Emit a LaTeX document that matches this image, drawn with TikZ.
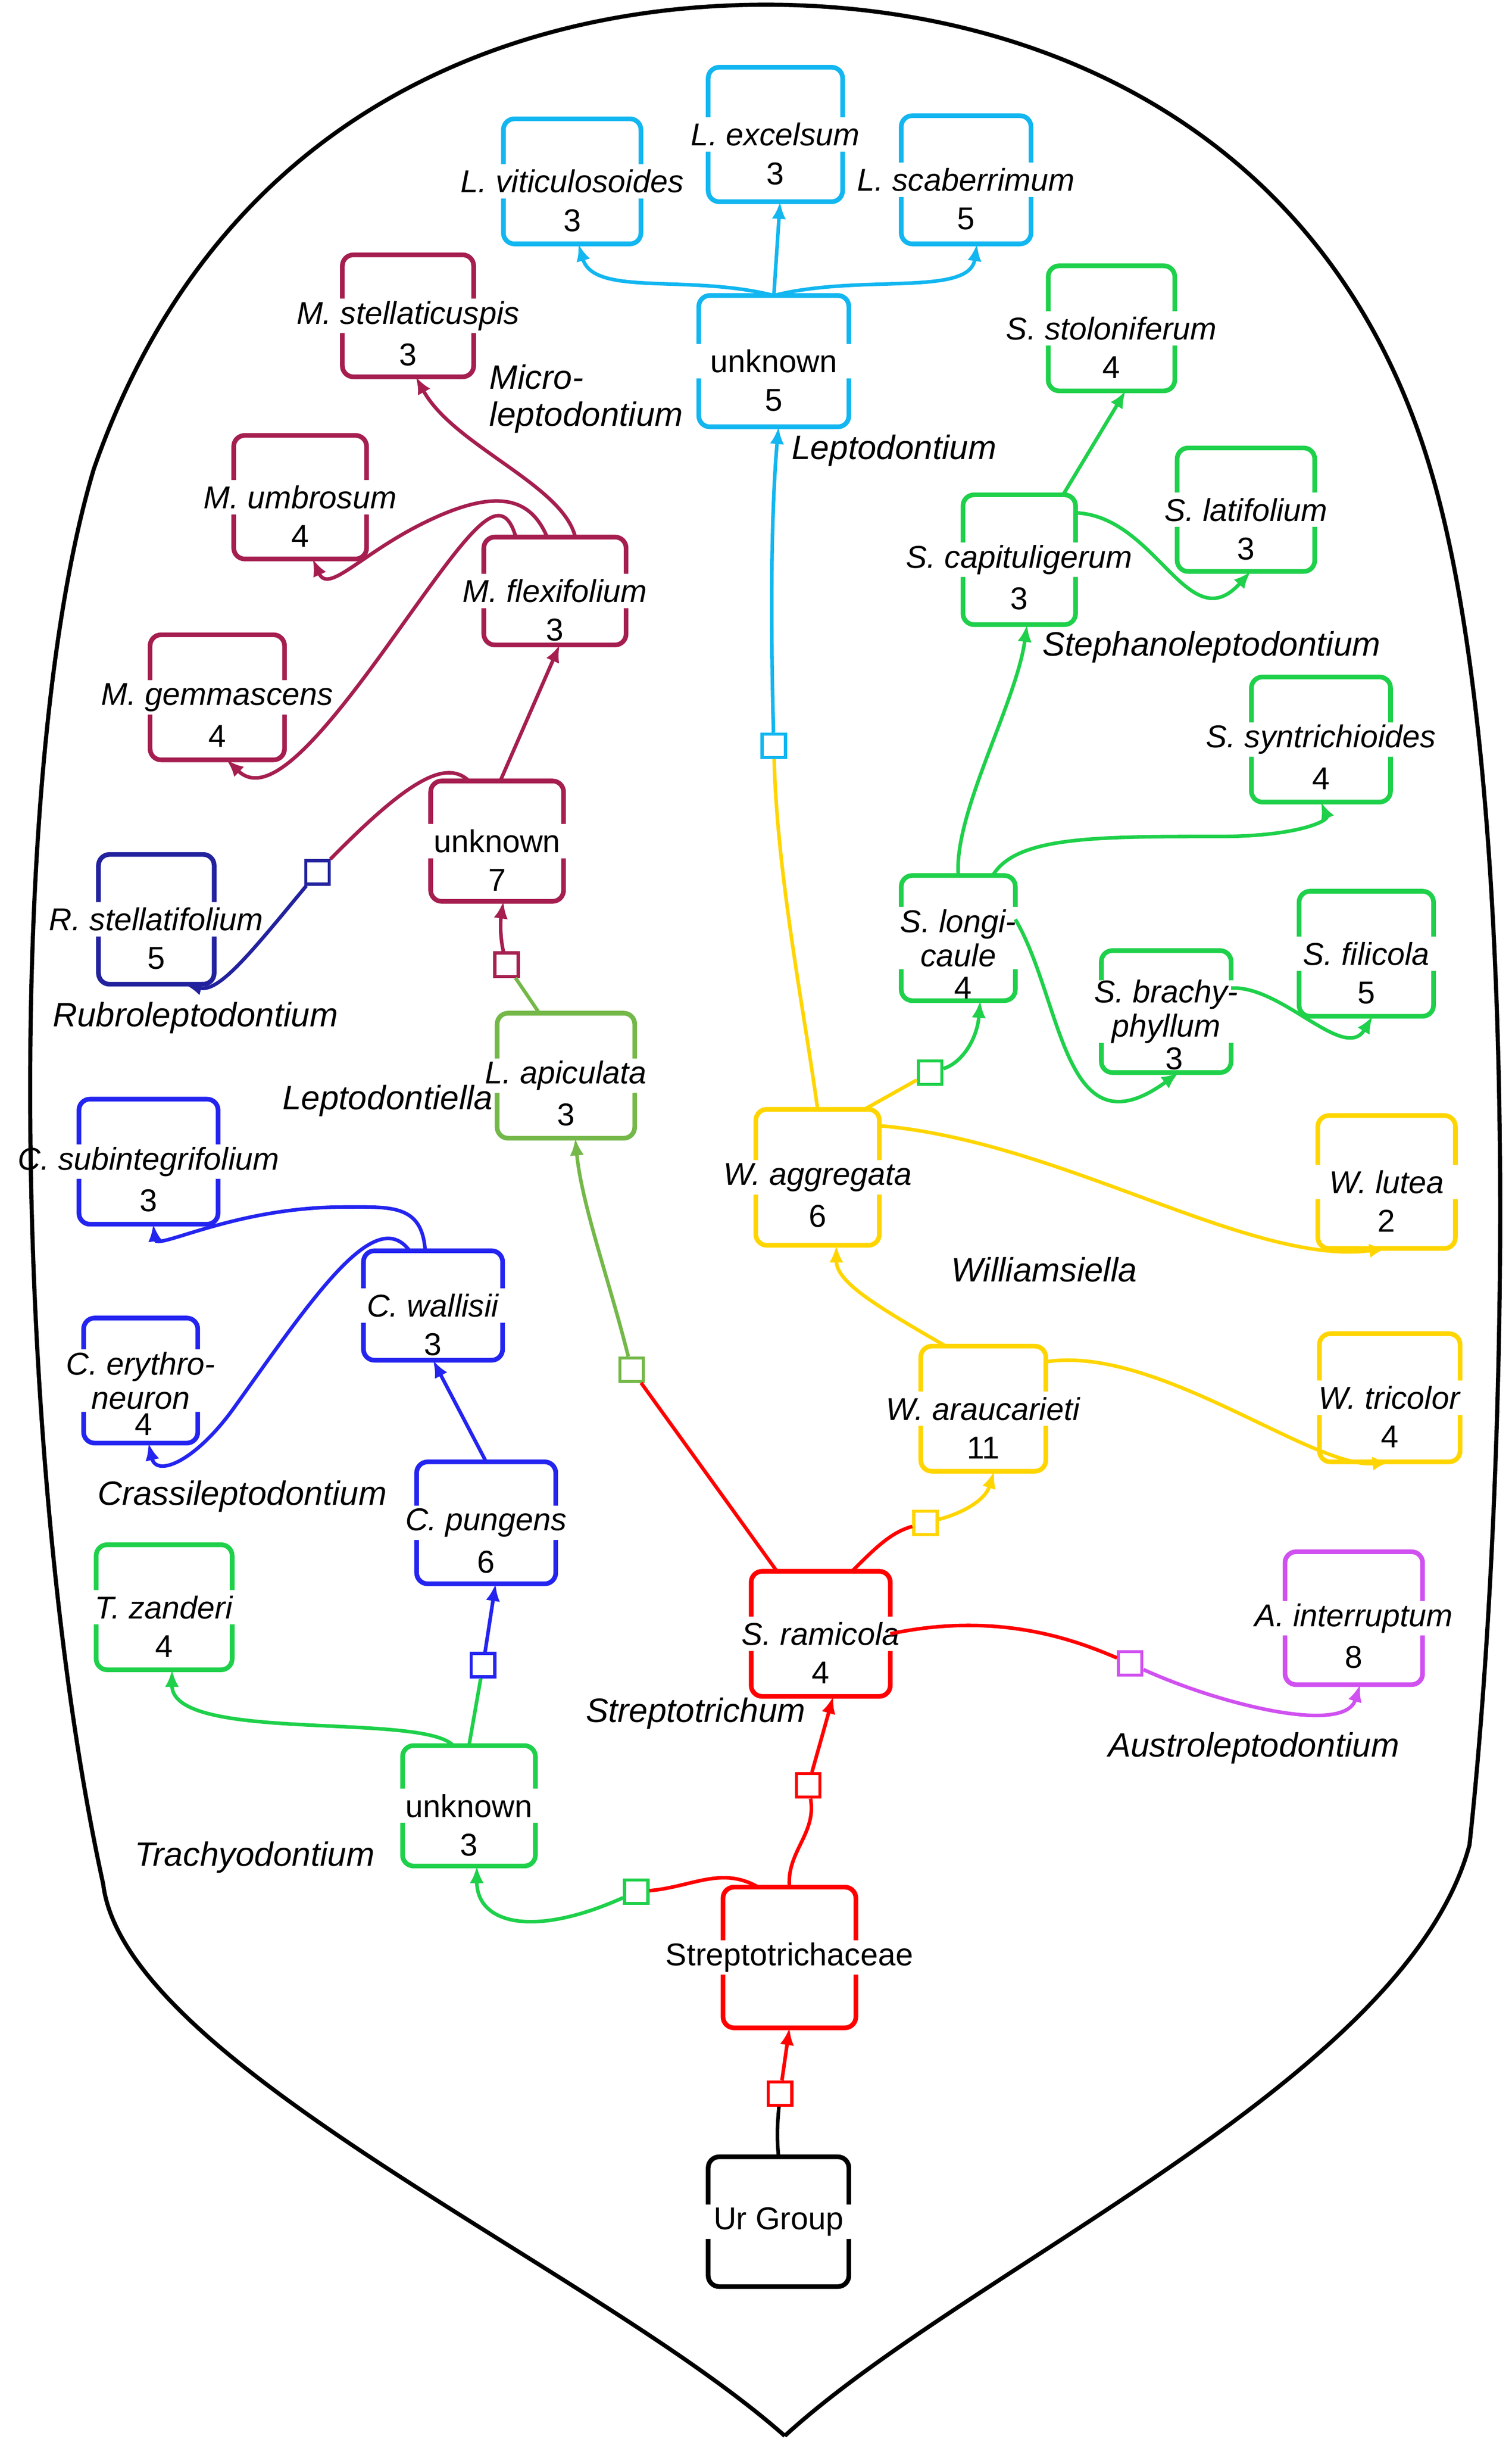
\documentclass[tikz,border=0pt]{standalone}
\usepackage{fontspec}
\setmainfont{Liberation Sans}
\usetikzlibrary{arrows.meta,calc,positioning}

\definecolor{cred}{HTML}{FF0000}
\definecolor{cgreen}{HTML}{1ED04A}
\definecolor{cblue}{HTML}{2424F0}
\definecolor{cnavy}{HTML}{22229E}
\definecolor{cmaroon}{HTML}{A51E4F}
\definecolor{colive}{HTML}{74B849}
\definecolor{ccyan}{HTML}{12B6F0}
\definecolor{cyellow}{HTML}{FFD500}
\definecolor{cpurple}{HTML}{D050F0}

% taxon box: [gap] name, position, width, height, colour, label, number
\newcommand\taxon[8][11]{%
  \node[taxbox, minimum width=#4*0.02cm, minimum height=#5*0.02cm] (#2) at (#3) {};
  \node[taxtext] (#2-name) at (#2.center) {#7};
  \node[taxtext] (#2-num) at ($(#2.center)+(0,25)$) {#8};
  \draw[boxline, #6] ($(#2.west)+(0,-#1)$) |- (#2.north) -| ($(#2.east)+(0,-#1)$);
  \draw[boxline, #6] ($(#2.west)+(0,#1)$) |- (#2.south) -| ($(#2.east)+(0,#1)$);
}

\begin{document}
\begin{tikzpicture}[x=0.02cm, y=-0.02cm,
    taxbox/.style={inner sep=0pt, outer sep=0pt},
    taxtext/.style={inner sep=0pt, align=center, font=\fontsize{11.5}{12.5}\selectfont},
    group/.style={font=\fontsize{12.3}{13.5}\selectfont\itshape, align=left},
    boxline/.style={line width=1.7pt, rounded corners=4pt},
    edge/.style={line width=1.3pt},
    arrow/.style={edge, -{Latex[length=2.2mm,width=1.8mm]}},
    marker/.style={line width=1.1pt, fill=white, minimum size=15*0.02cm, inner sep=0pt},
    leaf/.style={line width=1.5pt}
]
\useasboundingbox (0,0) rectangle (967,1560);

% leaf outline
\draw[leaf] (502,1558) .. controls (380,1450) and (80,1320) .. (66,1205)
  .. controls (10,950) and (0,500) .. (60,300) .. controls (140,70) and (330,3) .. (490,3)
  .. controls (660,3) and (850,80) .. (915,300) .. controls (975,500) and (965,950) .. (940,1180)
  .. controls (900,1330) and (620,1450) .. (502,1558);

% taxa
\taxon{ur}{498,1421}{90}{83}{black}{Ur Group}{}
\taxon{strep}{505,1252}{85}{90}{cred}{Streptotrichaceae}{}
\taxon{ramicola}{525,1045}{89}{80}{cred}{\textit{S. ramicola}}{4}
\taxon{trachy}{300,1155}{85}{77}{cgreen}{unknown}{3}
\taxon{zanderi}{105,1028}{87}{80}{cgreen}{\textit{T. zanderi}}{4}
\taxon{pungens}{311,974}{89}{78}{cblue}{\textit{C. pungens}}{6}
\taxon{wallisii}{277,835}{89}{70}{cblue}{\textit{C. wallisii}}{3}
\taxon[20]{erythro}{90,883}{73}{80}{cblue}{\textit{C. erythro-}\\\textit{neuron}}{}
\node[taxtext] (erythro-n) at (92,911) {4};
\taxon{subinteg}{95,743}{89}{80}{cblue}{\textit{C. subintegrifolium}}{3}
\taxon{apiculata}{362,688}{88}{80}{colive}{\textit{L. apiculata}}{3}
\taxon{micro}{318,538}{85}{77}{cmaroon}{unknown}{7}
\taxon{rstell}{100,588}{74}{83}{cnavy}{\textit{R. stellatifolium}}{5}
\taxon{flexi}{355,378}{91}{69}{cmaroon}{\textit{M. flexifolium}}{3}
\taxon{gemma}{139,446}{86}{80}{cmaroon}{\textit{M. gemmascens}}{4}
\taxon{umbro}{192,318}{85}{79}{cmaroon}{\textit{M. umbrosum}}{4}
\taxon{mstell}{261,202}{84}{78}{cmaroon}{\textit{M. stellaticuspis}}{3}
\taxon{lepto}{495,231}{96}{84}{ccyan}{unknown}{5}
\taxon{viticu}{366,116}{88}{80}{ccyan}{\textit{L. viticulosoides}}{3}
\taxon{excel}{496,86}{86}{86}{ccyan}{\textit{L. excelsum}}{3}
\taxon{scaber}{618,115}{83}{82}{ccyan}{\textit{L. scaberrimum}}{5}
\taxon{stolo}{711,210}{81}{80}{cgreen}{\textit{S. stoloniferum}}{4}
\taxon{latif}{797,326}{88}{79}{cgreen}{\textit{S. latifolium}}{3}
\taxon{capit}{652,358}{72}{83}{cgreen}{\textit{S. capituligerum}}{3}
\taxon{syntr}{845,473}{89}{80}{cgreen}{\textit{S. syntrichioides}}{4}
\taxon[20]{longi}{613,600}{73}{80}{cgreen}{\textit{S. longi-}\\\textit{caule}}{}
\node[taxtext] (longi-n) at (616,632) {4};
\taxon{filic}{874,610}{86}{80}{cgreen}{\textit{S. filicola}}{5}
\taxon[20]{brachy}{746,647}{83}{78}{cgreen}{\textit{S. brachy-}\\\textit{phyllum}}{}
\node[taxtext] (brachy-n) at (751,677) {3};
\taxon{aggreg}{523,753}{79}{87}{cyellow}{\textit{W. aggregata}}{6}
\taxon{lutea}{887,756}{88}{85}{cyellow}{\textit{W. lutea}}{2}
\taxon{arauc}{629,901}{80}{80}{cyellow}{\textit{W. araucarieti}}{11}
\taxon{trico}{889,894}{90}{82}{cyellow}{\textit{W. tricolor}}{4}
\taxon{interr}{866,1035}{88}{85}{cpurple}{\textit{A. interruptum}}{8}

% group names
\node[group, anchor=west] (g-micro) at (307,255) {Micro-\\leptodontium};
\node[group] (g-lepto) at (572,288) {Leptodontium};
\node[group] (g-steph) at (775,414) {Stephanoleptodontium};
\node[group] (g-rubro) at (125,651) {Rubroleptodontium};
\node[group] (g-tiella) at (248,704) {Leptodontiella};
\node[group] (g-will) at (668,812) {Williamsiella};
\node[group] (g-crass) at (155,957) {Crassileptodontium};
\node[group] (g-strep) at (445,1096) {Streptotrichum};
\node[group] (g-austro) at (802,1118) {Austroleptodontium};
\node[group] (g-trachy) at (163,1188) {Trachyodontium};

% markers
\node[marker, draw=cred] (m1) at (499,1339) {};
\node[marker, draw=cred] (m2) at (517,1142) {};
\node[marker, draw=cgreen] (m3) at (407,1210) {};
\node[marker, draw=cblue] (m4) at (309,1065) {};
\node[marker, draw=colive] (m5) at (404,876) {};
\node[marker, draw=cmaroon] (m6) at (324,617) {};
\node[marker, draw=cnavy] (m7) at (203,558) {};
\node[marker, draw=cyellow] (m8) at (592,974) {};
\node[marker, draw=ccyan] (m9) at (495,477) {};
\node[marker, draw=cgreen] (m10) at (595,686) {};
\node[marker, draw=cpurple] (m11) at (723,1064) {};

% connectors
\draw[edge] (ur.north) to[out=95,in=-95] (m1);
\draw[arrow, cred] (m1) -- (strep.south);
\draw[edge, cred] (strep.north) to[out=95,in=-80] (m2);
\draw[arrow, cred] (m2) -- ($(ramicola.south)+(8,0)$);
\draw[edge, cred] ($(strep.north)+(-20,0)$) to[out=150,in=5] (m3);
\draw[arrow, cgreen] (m3) .. controls (340,1240) and (305,1230) .. ($(trachy.south)+(5,0)$);
\draw[arrow, cgreen] ($(trachy.north)+(-10,0)$) .. controls (270,1095) and (110,1115) .. ($(zanderi.south)+(5,0)$);
\draw[edge, cgreen] (trachy.north) -- (m4);
\draw[arrow, cblue] (m4) -- ($(pungens.south)+(6,0)$);
\draw[arrow, cblue] (pungens.north) -- (wallisii.south);
\draw[arrow, cblue] ($(wallisii.north)+(-5,0)$) .. controls (270,770) and (250,772) .. (220,772) .. controls (150,772) and (100,800) .. ($(subinteg.south)+(3,0)$);
\draw[arrow, cblue] ($(wallisii.north)+(-15,0)$) .. controls (240,770) and (200,830) .. (150,900) .. controls (125,935) and (100,945) .. ($(erythro.south)+(5,0)$);
\draw[edge, cred] ($(ramicola.north)+(-28,0)$) -- (m5);
\draw[arrow, colive] (m5) .. controls (390,820) and (372,770) .. ($(apiculata.south)+(6,0)$);
\draw[edge, colive] ($(apiculata.north)+(-17,0)$) -- (m6);
\draw[arrow, cmaroon] (m6) .. controls (320,600) and (320,590) .. ($(micro.south)+(4,0)$);
\draw[edge, cmaroon] ($(micro.north)+(-18,0)$) .. controls (285,485) and (260,500) .. (m7);
\draw[arrow, cnavy] (m7) .. controls (160,610) and (140,635) .. ($(rstell.south)+(18,0)$);
\draw[arrow, cmaroon] ($(micro.north)+(2,0)$) -- ($(flexi.south)+(3,0)$);
\draw[arrow, cmaroon] ($(flexi.north)+(-25,0)$) .. controls (320,310) and (300,340) .. (250,410) .. controls (200,480) and (170,510) .. ($(gemma.south)+(6,0)$);
\draw[arrow, cmaroon] ($(flexi.north)+(-5,0)$) .. controls (340,320) and (320,310) .. (270,335) .. controls (230,355) and (210,380) .. ($(umbro.south)+(8,0)$);
\draw[arrow, cmaroon] ($(flexi.north)+(13,0)$) .. controls (360,310) and (290,285) .. ($(mstell.south)+(5,0)$);
\draw[edge, cred] ($(ramicola.north)+(20,0)$) .. controls (560,990) and (570,980) .. (m8);
\draw[arrow, cyellow] (m8) .. controls (615,968) and (630,960) .. ($(arauc.south)+(7,0)$);
\draw[arrow, cyellow] ($(arauc.north)+(-24,0)$) .. controls (560,835) and (535,820) .. ($(aggreg.south)+(12,0)$);
\draw[arrow, cyellow] ($(arauc.east)+(0,-30)$) .. controls (740,860) and (840,940) .. (trico.south);
\draw[arrow, cyellow] ($(aggreg.east)+(0,-33)$) .. controls (680,730) and (800,810) .. (lutea.south);
\draw[edge, cyellow] (aggreg.north) .. controls (515,650) and (497,560) .. (m9);
\draw[arrow, ccyan] (m9) .. controls (493,400) and (493,330) .. ($(lepto.south)+(3,0)$);
\draw[edge, cyellow] ($(aggreg.north)+(30,0)$) -- (m10);
\draw[arrow, cgreen] (m10) .. controls (615,680) and (625,665) .. ($(longi.south)+(14,0)$);
\draw[arrow, cgreen] (longi.north) .. controls (610,520) and (650,450) .. ($(capit.south)+(5,0)$);
\draw[arrow, cgreen] ($(longi.north)+(22,0)$) .. controls (650,535) and (700,535) .. (780,535) .. controls (830,535) and (850,525) .. (syntr.south);
\draw[arrow, cgreen] ($(longi.east)+(0,-12)$) .. controls (680,640) and (680,740) .. ($(brachy.south)+(8,0)$);
\draw[arrow, cgreen] ($(brachy.east)+(0,-15)$) .. controls (820,630) and (860,680) .. ($(filic.south)+(4,0)$);
\draw[arrow, cgreen] ($(capit.north)+(28,0)$) -- ($(stolo.south)+(9,0)$);
\draw[arrow, cgreen] ($(capit.east)+(0,-30)$) .. controls (740,330) and (760,410) .. ($(latif.south)+(3,0)$);
\draw[arrow, ccyan] (lepto.north) .. controls (440,175) and (380,190) .. ($(viticu.south)+(4,0)$);
\draw[arrow, ccyan] (lepto.north) -- ($(excel.south)+(3,0)$);
\draw[arrow, ccyan] (lepto.north) .. controls (550,175) and (620,190) .. ($(scaber.south)+(7,0)$);
\draw[edge, cred] (ramicola.east) .. controls (640,1030) and (690,1050) .. (m11);
\draw[arrow, cpurple] (m11) .. controls (780,1090) and (860,1110) .. ($(interr.south)+(4,0)$);
\end{tikzpicture}
\end{document}
